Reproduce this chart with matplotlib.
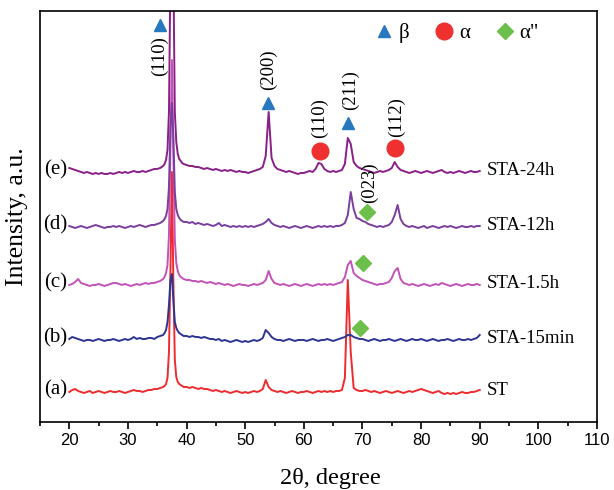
import matplotlib
matplotlib.use('Agg')
import matplotlib.pyplot as plt
from matplotlib.ticker import MultipleLocator
import numpy as np

# 2theta grid: 0.5 deg steps, finer round the main (110) peak
two_theta = np.r_[np.arange(20, 36, 0.5), np.arange(36, 39.5, 0.25), np.arange(39.5, 90.01, 0.5)]

# intensities (a.u., above each curve's own baseline)
st = [0, 2, 3, 1, 0, -1, 0, 1, -1, 0, 1, 0, -1, 0, 1, 0, 0, 1, 0, -1, 0, 1, 2, 1, 1, 0, 1, 2, 2, 3, 3, 4,
      5, 6, 8, 14, 40, 120, 220, 110, 32, 15, 10, 8, 7, 6,
      5, 5, 4, 5, 4, 3, 4, 3, 3, 2, 1, 2, 1, 0, 1, 0, -1, 0, 1, 0, -1,
      0, -1, 0, 1, 0, 1, 3, 12, 5, 2, 1, 0, 1, 0, -1, 0, 1, 0, -1, 0,
      0, 1, 0, -1, 0, 1, 0, 1, 0, 1, 0, 1, 1, 2, 14, 112, 40, 4, 2, 1,
      1, 2, 1, 0, 1, 0, -1, 0, 1, 0, -1, 0, 1, 0, -1, 0, 1, 0, 1, 2,
      3, 2, 1, 0, -1, 0, 1, -1, -2, -1, -2, -1, -2, -1, 0, -1, -1, 0, 0, 1, 2]
sta_15min = [1, 3, 2, 1, 0, -1, 0, 0, -1, 0, 1, 0, -1, 0, 0, 1, 0, -1, 0, 1, 0, 1, 3, 1, 2, 1, 1, 2, 2, 1, 3, 4,
             5, 7, 10, 18, 35, 60, 66, 40, 18, 12, 9, 7, 6, 5,
             4, 4, 3, 4, 3, 3, 2, 3, 2, 1, 1, 0, 1, -1, 0, -1, -2, -1, 0, -1, -2,
             -1, -2, -1, 0, -1, 0, 2, 10, 7, 3, 1, 0, 0, -1, 0, 1, 0, -1, 0, 0,
             0, -1, 0, 1, 0, -1, 0, 0, 1, 0, -1, 0, 1, 2, 3, 5, 5, 3, 2, 1,
             1, 0, -1, 0, 1, 0, -1, 0, 0, 1, 0, -1, 0, 1, 0, -1, 0, 1, 0, 0,
             1, 0, -1, 0, 1, 0, -1, 0, 0, 1, 0, -1, 0, 1, 0, 0, 1, 0, 1, 2, 5]
sta_1_5h = [0, 1, 3, 6, 2, 1, 0, -1, 0, 0, 1, 0, -1, 0, 1, 2, 2, 1, 0, 1, 0, -1, 0, 1, 0, 1, 2, 1, 2, 2, 3, 4,
            6, 8, 12, 20, 50, 140, 225, 130, 45, 22, 14, 10, 8, 7,
            6, 5, 5, 4, 4, 3, 4, 3, 2, 3, 2, 1, 2, 1, 0, 1, 0, -1, 0, 1, 0,
            0, -1, 0, 1, 0, 1, 2, 5, 14, 6, 2, 1, 0, 1, 0, -1, 0, 1, 0, -1,
            0, 1, 0, -1, 0, 1, 0, 1, 0, 1, 0, 1, 2, 3, 8, 20, 24, 12, 9, 7,
            5, 4, 3, 2, 1, 0, 1, 1, 2, 3, 7, 14, 17, 6, 2, 1, 0, 1, 0, -1,
            0, 1, 0, -1, 0, 1, 0, 2, 1, 0, -1, 0, 1, 0, -1, 0, 1, 0, 0, 1, 0]
sta_12h = [1, 0, -1, 0, 1, 0, -1, 0, 1, 2, 1, 0, -1, 0, 0, 1, 0, 1, 0, -1, 0, 1, 0, 1, 2, 1, 0, 1, 2, 2, 3, 4,
           6, 8, 11, 18, 40, 100, 124, 90, 35, 18, 12, 9, 7, 6,
           5, 5, 4, 5, 3, 4, 3, 2, 3, 2, 1, 2, 4, 1, 2, 1, 0, 1, 0, 1, 0,
           1, 0, 1, 0, 1, 2, 3, 5, 8, 4, 2, 1, 0, 1, 0, -1, 0, 1, 0, -1,
           0, 1, 0, -1, 0, 1, 0, 1, 0, 1, 0, 1, 1, 2, 4, 12, 35, 18, 9, 8,
           6, 5, 3, 2, 1, 0, 1, 0, 1, 2, 5, 12, 22, 8, 3, 1, 0, 1, 0, -1,
           0, 1, -1, 0, 1, 0, -1, 0, 1, 0, 1, 0, -1, 0, 1, 0, 0, 1, 0, 1, 1]
sta_24h = [4, 3, 2, 1, 0, -1, 0, -1, -2, -1, -2, -1, -2, -2, -1, -2, -1, 0, -1, 0, -1, 0, 1, 0, 0, 1, 0, 1, 2, 3, 3, 4,
           6, 8, 12, 22, 60, 200, 320, 200, 60, 30, 18, 13, 11, 9,
           8, 7, 6, 6, 5, 5, 4, 3, 4, 3, 2, 3, 2, 1, 2, 1, 2, 1, 0, 1, 0,
           0, -1, 0, 1, 2, 3, 5, 16, 60, 14, 6, 3, 2, 1, 0, 1, 0, -1, -2, -1,
           -1, 0, 1, 0, 3, 9, 8, 3, 1, 0, 1, 0, 1, 2, 8, 34, 28, 10, 6, 4,
           3, 2, 1, 0, -1, 0, 1, 0, 1, 2, 4, 10, 5, 2, 1, 0, -1, 0, 1, 0,
           -1, 0, 1, 0, -1, 0, 1, 2, 0, -1, 0, -1, 0, 1, 0, -1, 0, 1, 0, 0, 1]

series = [st, sta_15min, sta_1_5h, sta_12h, sta_24h]
names = ['ST', 'STA-15min', 'STA-1.5h', 'STA-12h', 'STA-24h']
tags = ['(a)', '(b)', '(c)', '(d)', '(e)']
offsets = [30, 82, 137, 195, 250]
colors = ['#ee2b2e', '#2e3494', '#c452b6', '#7a3e9e', '#8a1f88']

# phase markers (2theta, stacked intensity)
beta_x = [35.4, 53.9, 67.55]
beta_y = [397, 319, 299]
alpha_x = [62.7, 75.5]
alpha_y = [271, 274]
alpha2_x = [70.7, 70.1, 69.5]
alpha2_y = [210, 159, 94]

hkl_text = ['(110)', '(200)', '(110)', '(211)', '(112)', '(023)']
hkl_x = [35.3, 53.9, 62.7, 67.9, 75.8, 71.2]
hkl_y = [366, 352, 304, 332, 305, 239]

serif = 'Liberation Serif'
plt.rcParams['font.family'] = ['Liberation Sans', 'DejaVu Sans']

fig = plt.figure(figsize=(6.14, 4.9), dpi=100)
ax = fig.add_axes([0.0651, 0.1388, 0.9072, 0.8388])

for y, name, tag, off, c in zip(series, names, tags, offsets, colors):
    ax.plot(two_theta, np.array(y) + off, color=c, lw=1.4)
    ax.text(19.7, off + 2, tag, ha='right', va='center', fontsize=15, family=serif)
    ax.text(91.2, off + 1, name, ha='left', va='center', fontsize=13.5, family=serif)

ax.plot(beta_x, beta_y, '^', color='#2878c0', ms=9, ls='none', label='β')
ax.plot(alpha_x, alpha_y, 'o', color='#ee3030', ms=12, ls='none', label='α')
ax.plot(alpha2_x, alpha2_y, 'D', color='#6cbf4a', ms=8, ls='none', label='α"')

for t, x, y in zip(hkl_text, hkl_x, hkl_y):
    ax.text(x, y, t, rotation=90, ha='center', va='center', fontsize=13.5, family=serif)

leg = ax.legend(ncol=3, loc='center', bbox_to_anchor=(0.747, 0.946), frameon=False,
                handletextpad=0.2, columnspacing=1.2, borderpad=0, handlelength=1.0,
                prop={'family': serif, 'size': 15})

ax.set_xlim(15, 110)
ax.set_ylim(0, 411)
ax.xaxis.set_minor_locator(MultipleLocator(5))
ax.set_xticks(np.arange(20, 111, 10))
ax.tick_params(axis='x', which='major', direction='out', length=5, width=1.2, labelsize=12, pad=3)
ax.tick_params(axis='x', which='minor', direction='out', length=3, width=1.2)
ax.set_yticks([])
for s in ax.spines.values():
    s.set_linewidth(1.2)

ax.set_xlabel('2θ, degree', fontsize=17.5, family=serif)
ax.xaxis.set_label_coords(0.522, -0.112)
ax.set_ylabel('Intensity, a.u.', fontsize=18.5, family=serif)
ax.yaxis.set_label_coords(-0.021, 0.5)

fig.savefig('out.png', dpi=100)
